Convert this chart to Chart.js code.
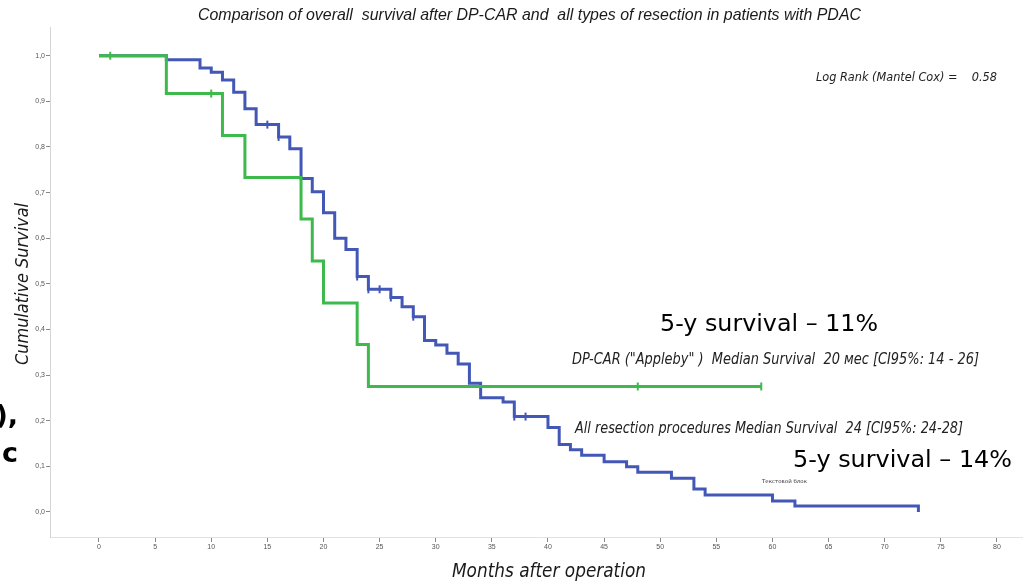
<!DOCTYPE html>
<html><head><meta charset="utf-8">
<script src="https://cdn.jsdelivr.net/npm/chart.js@4/dist/chart.umd.min.js"></script>
<style>html,body{margin:0;padding:0;background:#fff;overflow:hidden}#wrap{position:relative;width:1028px;height:585px}</style>
</head><body><div id="wrap"><canvas id="c" width="1028" height="585"></canvas></div>
<script>
const chartTitle = "Comparison of overall  survival after DP-CAR and  all types of resection in patients with PDAC";
const xAxisTitle = "Months after operation";
const yAxisTitle = "Cumulative Survival";
const xTicks = [0,5,10,15,20,25,30,35,40,45,50,55,60,65,70,75,80];
const yTicks = [0,0.1,0.2,0.3,0.4,0.5,0.6,0.7,0.8,0.9,1.0];

// All resection procedures (blue)
const allMonths   = [0,6,9,10,11,12,13,14,16,17,18,19,20,21,22,23,24,26,27,28,29,30,31,32,33,34,36,37,40,41,42,43,45,47,48,51,53,54,60,62,73];
const allSurvival = [1.0,0.991,0.973,0.964,0.947,0.920,0.884,0.849,0.822,0.796,0.731,0.702,0.656,0.600,0.575,0.516,0.488,0.470,0.450,0.428,0.376,0.366,0.348,0.324,0.282,0.250,0.241,0.209,0.185,0.148,0.136,0.124,0.110,0.099,0.087,0.074,0.050,0.037,0.024,0.013,0.0];
const allCensorMonths   = [15,16,23,24,25,26,28,37,38];
const allCensorSurvival = [0.849,0.822,0.516,0.488,0.488,0.470,0.428,0.209,0.209];

// DP-CAR "Appleby" (green)
const dpMonths   = [0,6,11,13,18,19,20,23,24,59];
const dpSurvival = [1.0,0.917,0.825,0.733,0.642,0.550,0.458,0.367,0.275,0.275];
const dpCensorMonths   = [1,10,48,59];
const dpCensorSurvival = [1.0,0.917,0.275,0.275];

const BLUE = '#4358B6';
const GREEN = '#3DBA4B';

function pts(xs, ys){ return xs.map((x,i)=>({x:x, y:ys[i]})); }

function fitText(ctx, text, x, y, targetW, font, color, rotate){
  ctx.save();
  ctx.font = font;
  ctx.fillStyle = color;
  ctx.textAlign = 'left';
  ctx.textBaseline = 'alphabetic';
  const w = ctx.measureText(text).width;
  ctx.translate(x, y);
  if (rotate) ctx.rotate(-Math.PI/2);
  ctx.scale(targetW / w, 1);
  ctx.fillText(text, 0, 0);
  ctx.restore();
}

const textPlugin = {
  id: 'texts',
  afterDraw(chart){
    const ctx = chart.ctx;
    fitText(ctx, chartTitle, 198, 20, 663, 'italic 17px "Liberation Sans Narrow", "Liberation Sans", sans-serif', '#1a1a1a');
    fitText(ctx, 'Log Rank (Mantel Cox) =    0.58', 816, 81, 181, 'italic 13px "DejaVu Sans", sans-serif', '#222');
    fitText(ctx, '5-y survival \u2013 11%', 660, 331, 218, '23px "DejaVu Sans", sans-serif', '#000');
    fitText(ctx, 'DP-CAR ("Appleby" )  Median Survival  20 мес [CI95%: 14 - 26]', 572, 364, 407, 'italic 15px "DejaVu Sans", sans-serif', '#222');
    fitText(ctx, 'All resection procedures Median Survival  24 [CI95%: 24-28]', 575, 433, 388, 'italic 15px "DejaVu Sans", sans-serif', '#222');
    fitText(ctx, '5-y survival \u2013 14%', 793, 467, 219, '23px "DejaVu Sans", sans-serif', '#000');
    fitText(ctx, 'Текстовой блок', 762, 483, 45, '5px "DejaVu Sans", sans-serif', '#333');
    fitText(ctx, xAxisTitle, 452, 577, 194, 'italic 19px "DejaVu Sans", sans-serif', '#1a1a1a');
    fitText(ctx, yAxisTitle, 28, 365, 162, 'italic 18px "DejaVu Sans", sans-serif', '#1a1a1a', true);
    ctx.save();
    ctx.font = 'bold 27px "DejaVu Sans", sans-serif';
    ctx.fillStyle = '#000';
    ctx.textAlign = 'right';
    ctx.fillText('),', 18, 424);
    ctx.fillText('ic', 18, 462);
    ctx.restore();
  }
};

new Chart(document.getElementById('c'), {
  type: 'line',
  data: {
    datasets: [
      { type:'scatter', data: pts(dpCensorMonths, dpCensorSurvival), showLine:false, pointStyle:'line', rotation:90, pointRadius:4, pointBorderWidth:2, borderColor:GREEN, backgroundColor:GREEN, order:0 },
      { type:'scatter', data: pts(allCensorMonths, allCensorSurvival), showLine:false, pointStyle:'line', rotation:90, pointRadius:4, pointBorderWidth:2, borderColor:BLUE, backgroundColor:BLUE, order:0 },
      { label:'DP-CAR', data: pts(dpMonths, dpSurvival), stepped:'before', borderColor:GREEN, borderWidth:3, pointRadius:0, fill:false, order:1 },
      { label:'All resection', data: pts(allMonths, allSurvival), stepped:'before', borderColor:BLUE, borderWidth:3, pointRadius:0, fill:false, order:2 }
    ]
  },
  options: {
    responsive:false, animation:false, devicePixelRatio:1,
    layout:{ padding:{ top:27, left:0, right:0, bottom:0 } },
    plugins:{ legend:{display:false}, tooltip:{enabled:false}, title:{display:false} },
    scales:{
      x:{
        type:'linear', min:-4.365, max:82.23,
        afterBuildTicks(s){ s.ticks = xTicks.map(v=>({value:v})); },
        afterFit(s){ s.height = 48; },
        ticks:{ font:{size:7, family:'"Liberation Sans", sans-serif'}, color:'#555', padding:1, maxRotation:0, autoSkip:false },
        grid:{ drawOnChartArea:false, drawTicks:true, tickLength:5, tickColor:'#888', tickWidth:1 },
        border:{ color:'#e2e2e2', width:1 }
      },
      y:{
        type:'linear', min:-0.055, max:1.063,
        afterBuildTicks(s){ s.ticks = yTicks.map(v=>({value:v})); },
        afterFit(s){ s.width = 50; },
        ticks:{ font:{size:7, family:'"Liberation Sans", sans-serif'}, color:'#555', padding:1, callback:(v)=>Number(v).toFixed(1).replace('.', ',') },
        grid:{ drawOnChartArea:false, drawTicks:true, tickLength:4, tickColor:'#888', tickWidth:1 },
        border:{ color:'#d4d4d4', width:1 }
      }
    }
  },
  plugins:[textPlugin]
});
</script>
</body></html>
